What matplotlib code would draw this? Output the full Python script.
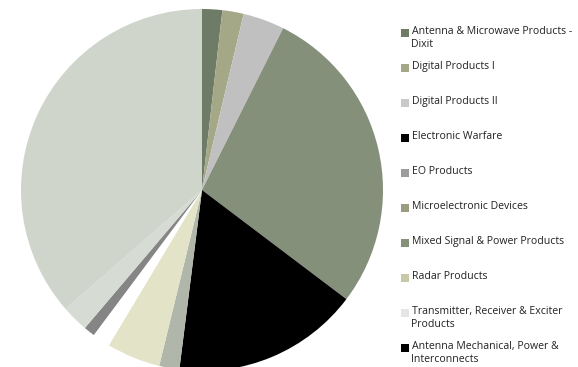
import matplotlib
matplotlib.use('Agg')
import matplotlib.pyplot as plt
from matplotlib.patches import Rectangle

# slice shares (%) clockwise from 12 o'clock
slice_shares = [1.8, 1.9, 3.7, 27.9, 16.7, 1.8, 4.8, 1.6, 1.0, 2.4, 36.4]
slice_colors = ['#6e7b67', '#a5a887', '#c0c0c0', '#85907b', '#000000', '#b1b6ab',
                '#e3e3c7', '#ffffff', '#858585', '#d6dbd4', '#cfd5cb']

legend_labels = ['Antenna & Microwave Products -\nDixit', 'Digital Products I',
                 'Digital Products II', 'Electronic Warfare', 'EO Products',
                 'Microelectronic Devices', 'Mixed Signal & Power Products',
                 'Radar Products', 'Transmitter, Receiver & Exciter\nProducts',
                 'Antenna Mechanical, Power &\nInterconnects']
legend_colors = ['#6e7b67', '#a5a887', '#c8c8c8', '#000000', '#9c9c9c',
                 '#9b9b7f', '#85907b', '#c8c8a8', '#e5e5e5', '#000000']

W, H = 578, 367
fig = plt.figure(figsize=(W / 100, H / 100), dpi=100)
ax = fig.add_axes([0, 0, 1, 1])

# pie in pixel-like coordinates (y up), bottom gets cut off by the figure edge
ax.pie(slice_shares, colors=slice_colors, startangle=90, counterclock=False,
       center=(202, H - 190), radius=181, wedgeprops=dict(linewidth=0))
ax.set_xlim(0, W)
ax.set_ylim(0, H)
ax.set_aspect('auto')
ax.axis('off')

# legend drawn by hand: square aligned with first text line
for i, (lab, col) in enumerate(zip(legend_labels, legend_colors)):
    y = H - (32.7 + 35 * i)
    ax.add_patch(Rectangle((401, y - 3.8), 7.5, 7.5, color=col, lw=0))
    ax.text(411.5, y + 6.5, lab, fontsize=7.6, family='Open Sans', color='#222222',
            va='top', ha='left', linespacing=1.2)

fig.savefig('out.png', dpi=100)
